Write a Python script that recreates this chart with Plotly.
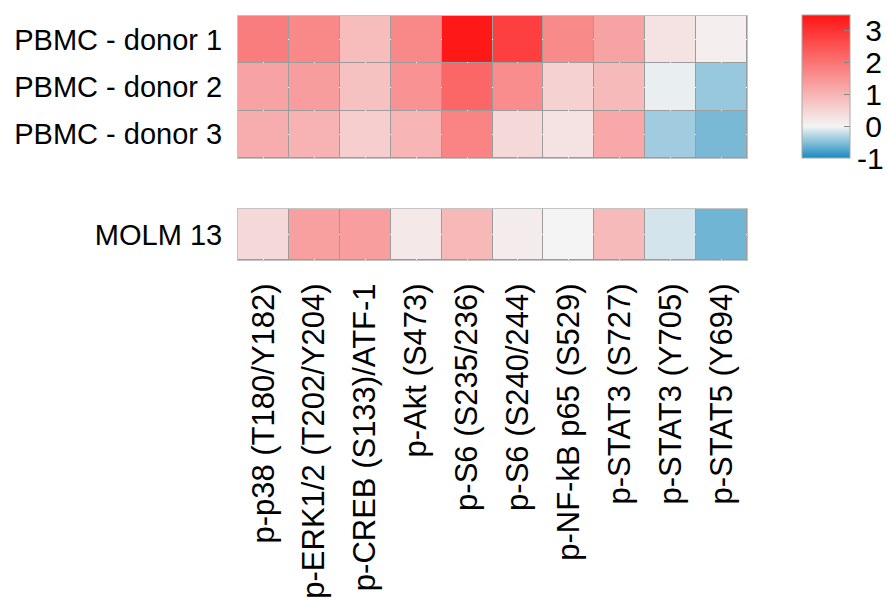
import plotly.graph_objects as go

markers = ["p-p38 (T180/Y182)", "p-ERK1/2 (T202/Y204)", "p-CREB (S133)/ATF-1",
           "p-Akt (S473)", "p-S6 (S235/236)", "p-S6 (S240/244)",
           "p-NF-kB p65 (S529)", "p-STAT3 (S727)", "p-STAT3 (Y705)", "p-STAT5 (Y694)"]
pbmc_rows = ["PBMC - donor 1", "PBMC - donor 2", "PBMC - donor 3"]
donor1 = [1.86, 1.69, 0.88, 1.69, 3.44, 2.83, 1.66, 1.27, 0.28, 0.09]
donor2 = [1.27, 1.36, 0.79, 1.52, 2.20, 1.61, 0.54, 0.90, -0.05, -0.42]
donor3 = [1.11, 1.02, 0.59, 0.99, 1.76, 0.43, 0.28, 1.19, -0.38, -0.56]
molm_rows = ["MOLM 13"]
molm13 = [0.43, 1.32, 1.35, 0.19, 0.94, 0.12, 0.0, 0.90, -0.15, -0.60]
cbar_ticks = [-1, 0, 1, 2, 3]
cbar_ticktext = ["-1", "\u00a00", "\u00a01", "\u00a02", "\u00a03"]

zmin, zmax = -1, 3.5
cscale = [[0.0, "#1a8bbf"], [(0 - zmin) / (zmax - zmin), "#f4f4f4"], [1.0, "#ff1414"]]
font_family = "Arial, Liberation Sans, sans-serif"

fig = go.Figure()
fig.add_trace(go.Heatmap(
    z=[donor1, donor2, donor3], x=markers, y=pbmc_rows,
    zmin=zmin, zmax=zmax, colorscale=cscale, xgap=1, ygap=1,
    xaxis="x", yaxis="y",
    colorbar=dict(
        x=(802 - 238) / 509, xanchor="left", xpad=0,
        y=(260 - 15) / 244, yanchor="top", ypad=0,
        len=143, lenmode="pixels", thickness=48, thicknessmode="pixels",
        outlinecolor="#a8a8a8", outlinewidth=1,
        tickvals=cbar_ticks, ticktext=cbar_ticktext,
        ticks="inside", ticklen=6, tickcolor="#888888",
        tickfont=dict(size=30, family=font_family, color="black"),
    ),
))
fig.add_trace(go.Heatmap(
    z=[molm13], x=markers, y=molm_rows,
    zmin=zmin, zmax=zmax, colorscale=cscale, xgap=1, ygap=1,
    xaxis="x2", yaxis="y2", showscale=False,
))

frame = dict(showline=True, mirror=True, linecolor="#c4c4c4", linewidth=1)
fig.update_layout(
    width=887, height=601,
    margin=dict(l=238, r=140, t=16, b=341, autoexpand=False),
    paper_bgcolor="white", plot_bgcolor="#9c9c9c",
    font=dict(family=font_family, color="black"),
    xaxis=dict(domain=[0, 1], anchor="y", showticklabels=False, ticks="", **frame),
    xaxis2=dict(domain=[0, 1], anchor="y2", matches="x", tickangle=-90,
                ticks="outside", ticklen=10, tickcolor="rgba(0,0,0,0)", automargin=False,
                tickfont=dict(size=31, family=font_family, color="black"), **frame),
    yaxis=dict(domain=[(260 - 158) / 244, 1], anchor="x", autorange="reversed",
               ticks="outside", ticklen=9, tickcolor="rgba(0,0,0,0)", automargin=False,
               tickfont=dict(size=29, family=font_family, color="black"), **frame),
    yaxis2=dict(domain=[0, (260 - 209) / 244], anchor="x2", automargin=False,
                ticks="outside", ticklen=9, tickcolor="rgba(0,0,0,0)",
                tickfont=dict(size=29, family=font_family, color="black"), **frame),
)
fig.write_html("out.html")
